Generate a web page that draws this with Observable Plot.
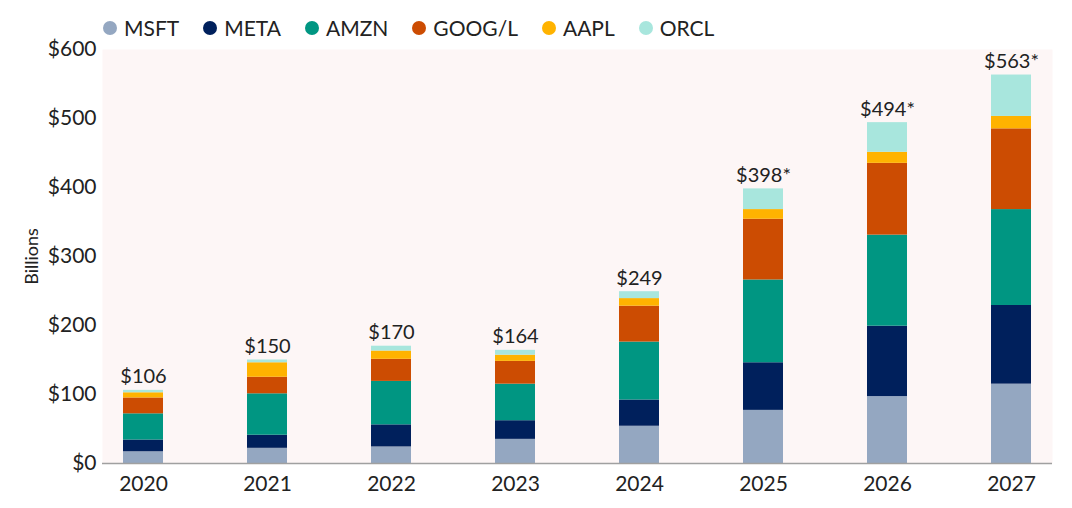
<!DOCTYPE html>
<html>
<head>
<meta charset="utf-8">
<script src="https://cdn.jsdelivr.net/npm/d3@7"></script>
<script src="https://cdn.jsdelivr.net/npm/@observablehq/plot@0.6"></script>
<style>
  html, body { margin: 0; padding: 0; background: #fff; }
  body { width: 1072px; height: 508px; overflow: hidden; font-family: Lato, "Open Sans", sans-serif; color: #222; }
  #legend { height: 36px; }
  #legend .row { display: flex; align-items: center; position: relative; top: 16px; padding-left: 103px; font-size: 21px; line-height: 24px; }
  .item { display: flex; align-items: center; margin-right: 24px; }
  .dot { width: 14px; height: 14px; border-radius: 50%; margin-right: 7px; }
  svg { display: block; overflow: visible; }
</style>
</head>
<body>
<div id="legend"><div class="row" id="legendRow"></div></div>
<div id="chart"></div>
<script>
const years = ["2020","2021","2022","2023","2024","2025","2026","2027"];
const companies = ["MSFT","META","AMZN","GOOG/L","AAPL","ORCL"];
const colors = ["#94a7c1","#00205c","#009682","#cc4c02","#ffb300","#a8e6dd"];
const MSFT = [17, 22, 24, 35, 54, 77, 97, 115];
const META = [17, 19, 32, 27, 38, 69, 102, 114];
const AMZN = [38, 60, 63, 53, 84, 120, 132, 139];
const GOOG = [23, 24, 32, 33, 52, 88, 104, 117];
const AAPL = [7.5, 21, 12, 9, 11, 14, 16, 18];
const ORCL = [3.5, 4, 7, 7, 10, 30, 43, 60];
const totals = [106, 150, 170, 164, 249, 398, 494, 563];
const totalLabels = ["$106","$150","$170","$164","$249","$398*","$494*","$563*"];
const yTicks = [0, 100, 200, 300, 400, 500, 600];

const series = [MSFT, META, AMZN, GOOG, AAPL, ORCL];
const data = [];
companies.forEach((c, i) => years.forEach((y, j) => data.push({year: y, company: c, value: series[i][j]})));
const totalData = years.map((y, j) => ({year: y, total: totals[j], label: totalLabels[j]}));

const legend = document.getElementById("legendRow");
companies.forEach((c, i) => {
  const it = document.createElement("div");
  it.className = "item";
  it.innerHTML = `<span class="dot" style="background:${colors[i]}"></span><span>${c}</span>`;
  legend.appendChild(it);
});

const chart = Plot.plot({
  width: 1072,
  height: 472,
  marginLeft: 102,
  marginRight: 20,
  marginTop: 13,
  marginBottom: 45,
  style: {fontFamily: "Lato, 'Open Sans', sans-serif", fontSize: "20px", color: "#222", background: "transparent", overflow: "visible"},
  x: {domain: years, paddingInner: 0.678, paddingOuter: 0.15, label: null},
  y: {domain: [0, 600], label: null},
  color: {domain: companies, range: colors},
  marks: [
    Plot.frame({fill: "#fdf6f6", stroke: null}),
    Plot.axisY({ticks: yTicks, tickSize: 0, tickPadding: 6, tickFormat: d => "$" + d, fontSize: 21, label: null}),
    Plot.text([300], {y: d => d, text: () => "Billions", frameAnchor: "left", textAnchor: "middle", dx: -70, rotate: -90, fontSize: 18, fill: "#222"}),
    Plot.axisX({tickSize: 0, tickPadding: 13, fontSize: 21, label: null}),
    Plot.barY(data, Plot.stackY({x: "year", y: "value", fill: "company", order: companies})),
    Plot.ruleY([0], {stroke: "#a0a0a0", strokeWidth: 1.5}),
    Plot.text(totalData, {x: "year", y: "total", text: "label", dy: -7, lineAnchor: "bottom", fontSize: 20, fill: "#222"})
  ]
});
document.getElementById("chart").appendChild(chart);
</script>
</body>
</html>
